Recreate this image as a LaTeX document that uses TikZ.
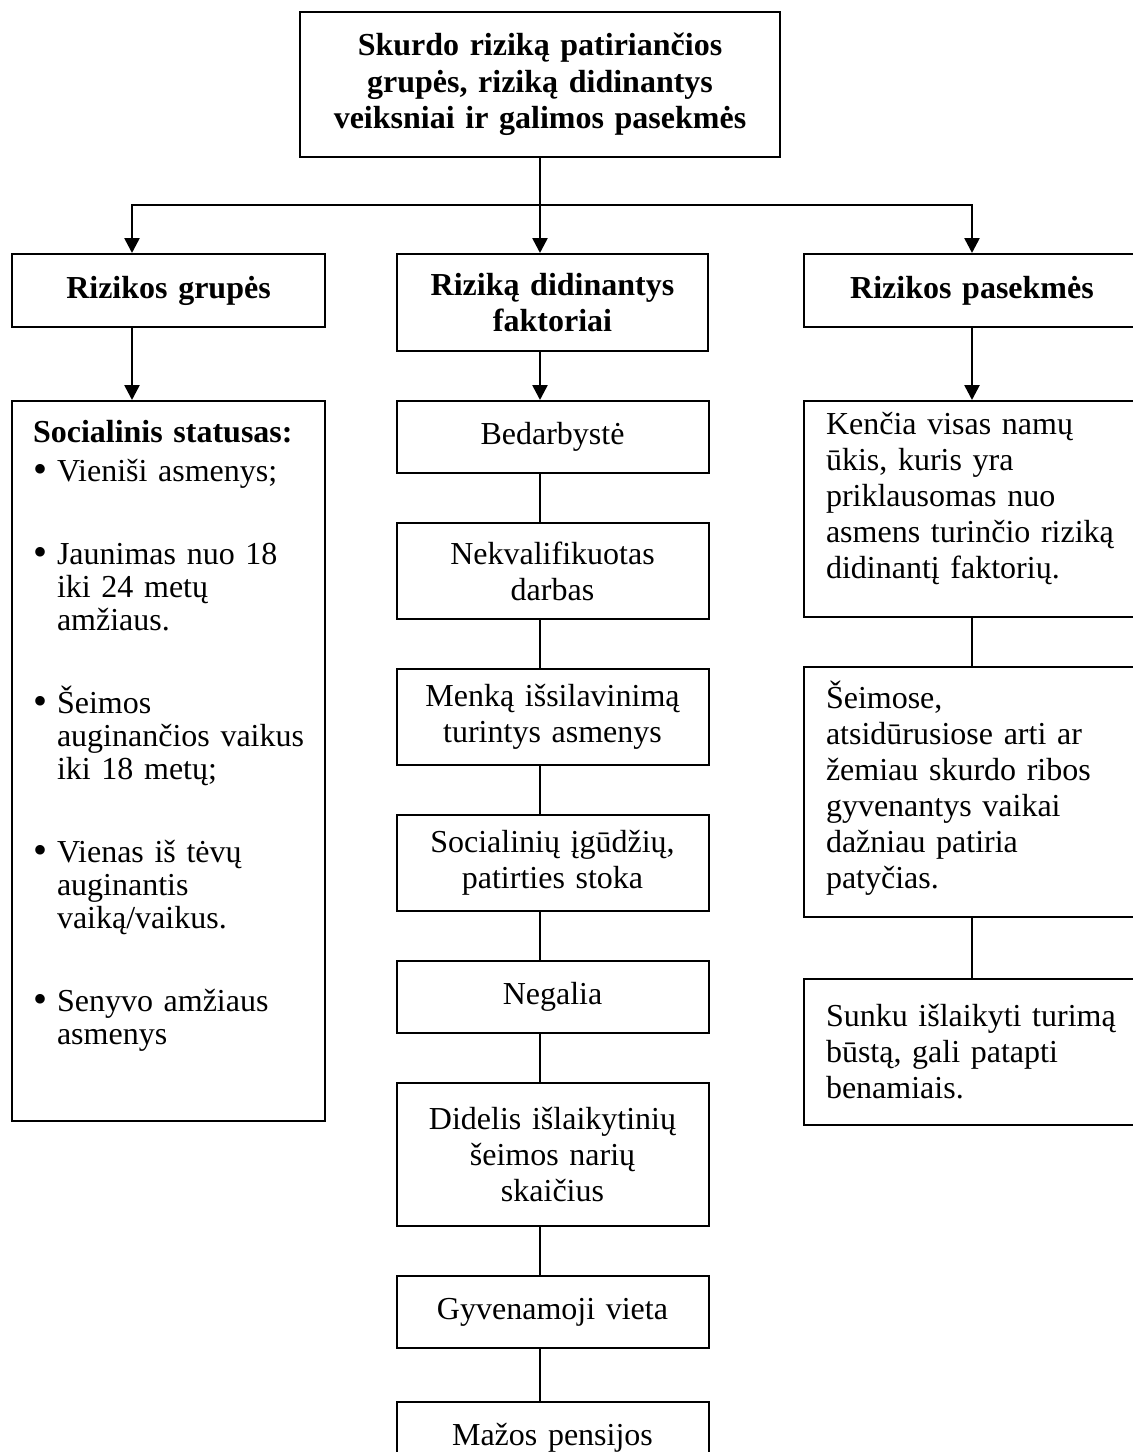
\documentclass[tikz,border=0pt]{standalone}
\usepackage{fontspec}
\setmainfont{Liberation Serif}
\usetikzlibrary{positioning, arrows.meta}
\tikzstyle{mainbox} = [rectangle,
minimum height=72.5pt,
text width=232pt,
inner xsep=4pt,
text centered,
draw=black,
line width=1pt,
font=\bfseries\fontsize{16pt}{18.25pt}\selectfont]
\tikzstyle{headbox} = [rectangle,
minimum height=36.5pt,
text width=148.5pt,
inner xsep=4pt,
text centered,
draw=black,
line width=1pt,
font=\bfseries\fontsize{16pt}{18pt}\selectfont]
\tikzstyle{factbox} = [rectangle,
minimum height=36pt,
text width=148pt,
inner xsep=4pt,
text centered,
draw=black,
line width=1pt,
font=\fontsize{16pt}{18pt}\selectfont]
\tikzstyle{listbox} = [rectangle,
minimum height=360pt,
text width=135.5pt,
inner xsep=10.5pt,
align=left,
draw=black,
line width=1pt,
font=\fontsize{16pt}{16.5pt}\selectfont]
\tikzstyle{effectbox} = [rectangle,
text width=146pt,
inner xsep=11pt,
align=left,
draw=black,
line width=1pt,
font=\fontsize{16pt}{18pt}\selectfont]
\tikzstyle{arrow} = [line width=1.3pt,-{Triangle[length=7.5pt,width=7.5pt]}]
\tikzstyle{link} = [line width=1pt]
\newcommand{\bul}{\makebox[12pt][l]{\raisebox{-0.8pt}{\fontsize{20pt}{20pt}\selectfont\textbullet}}}
\newcommand{\cont}{\hspace*{12pt}}
\newcommand{\padbelow}[1]{\par\vspace{#1}\nointerlineskip\hbox{}}

\begin{document}
\begin{tikzpicture}[x=0.5pt, y=-0.5pt, node distance=24pt]
\useasboundingbox (0,0) rectangle (1133,1452);
\clip (0,0) rectangle (1133,1452);

\node (title) [mainbox] at (540,84.5) {Skurdo riziką patiriančios\\
grupės, riziką didinantys\\
veiksniai ir galimos pasekmės};

% second row
\node (grp) [headbox, below=47.5pt of title, xshift=-185.75pt] {Rizikos grupės};
\node (fak) [headbox, below=47.5pt of title, xshift=6.25pt, text width=147.5pt, minimum height=48.5pt] {Riziką didinantys\\ faktoriai};
\node (pas) [headbox, below=47.5pt of title, xshift=216pt, text width=160pt] {Rizikos pasekmės};

% left column
\node (stat) [listbox, below=36pt of grp] {\textbf{Socialinis statusas:}\\[3pt]
\bul Vieniši asmenys;\\[25pt]
\bul Jaunimas nuo 18\\
\cont iki 24 metų\\
\cont amžiaus.\\[25pt]
\bul Šeimos\\
\cont\mbox{auginančios vaikus}\\
\cont iki 18 metų;\\[25pt]
\bul Vienas iš tėvų\\
\cont auginantis\\
\cont vaiką/vaikus.\\[25pt]
\bul Senyvo amžiaus\\
\cont asmenys\padbelow{25.5pt}};

% middle column
\node (bed) [factbox, below=of fak] {Bedarbystė};
\node (nek) [factbox, below=of bed, minimum height=48pt] {Nekvalifikuotas\\ darbas};
\node (men) [factbox, below=of nek, minimum height=48pt] {Menką išsilavinimą\\ turintys asmenys};
\node (soc) [factbox, below=of men, minimum height=48pt] {Socialinių įgūdžių,\\ patirties stoka};
\node (neg) [factbox, below=of soc] {Negalia};
\node (did) [factbox, below=of neg, minimum height=71.5pt] {Didelis išlaikytinių\\ šeimos narių\\ skaičius};
\node (gyv) [factbox, below=of did] {Gyvenamoji vieta};
\node (maz) [factbox, below=26pt of gyv] {Mažos pensijos};

% right column
\node (ken) [effectbox, below=36pt of pas, minimum height=108pt] {Kenčia visas namų\\
ūkis, kuris yra\\
priklausomas nuo\\
asmens turinčio riziką\\
didinantį faktorių.\padbelow{10pt}};
\node (sei) [effectbox, below=of ken, minimum height=125pt] {Šeimose,\\
atsidūrusiose arti ar\\
žemiau skurdo ribos\\
gyvenantys vaikai\\
dažniau patiria\\
patyčias.\padbelow{4pt}};
\node (sun) [effectbox, below=30pt of sei, minimum height=73pt] {Sunku išlaikyti turimą\\
būstą, gali patapti\\
benamiais.};

\coordinate (split) at (540,205);
\coordinate (lx) at (132,205);

\draw [arrow] (title) -- (title |- fak.north);
\draw [arrow] (split) -| (lx |- grp.north);
\draw [arrow] (split) -| (pas.north);
\draw [arrow] (lx |- grp.south) -- (lx |- stat.north);
\draw [arrow] (split |- fak.south) -- (split |- bed.north);
\draw [arrow] (pas) -- (ken);
\draw [link] (split |- bed.south) -- (split |- nek.north);
\draw [link] (split |- nek.south) -- (split |- men.north);
\draw [link] (split |- men.south) -- (split |- soc.north);
\draw [link] (split |- soc.south) -- (split |- neg.north);
\draw [link] (split |- neg.south) -- (split |- did.north);
\draw [link] (split |- did.south) -- (split |- gyv.north);
\draw [link] (split |- gyv.south) -- (split |- maz.north);
\draw [link] (ken) -- (sei);
\draw [link] (sei) -- (sun);
\end{tikzpicture}
\end{document}
